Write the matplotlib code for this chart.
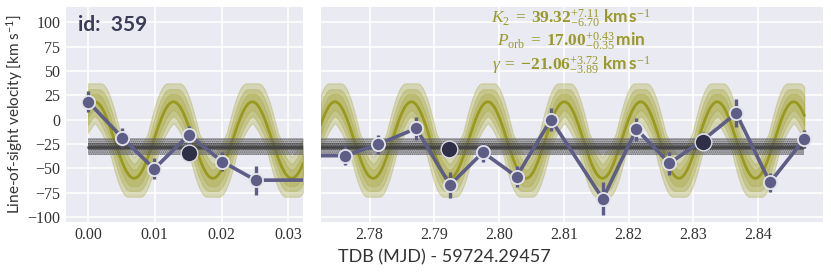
import numpy as np
import matplotlib
matplotlib.use("Agg")
import matplotlib.pyplot as plt

# ---------------- data ----------------
times = [0.0000, 0.0051, 0.0099, 0.0151, 0.0201, 0.0251,
         2.7762, 2.7813, 2.7872, 2.7924, 2.7975, 2.8027, 2.8080,
         2.8160, 2.8212, 2.8263, 2.8315, 2.8366, 2.8418, 2.8471]
rv = [18.5, -18.5, -50.7, -15.8, -43.2, -62.3,
      -37.1, -25.5, -9.1, -67.2, -33.7, -58.6, 0.0,
      -81.5, -9.9, -44.9, -21.0, 6.5, -64.7, -20.2]
rv_err = [10.8, 9.4, 10.8, 9.0, 10.0, 15.0,
          9.4, 10.0, 11.5, 13.0, 10.0, 11.0, 12.0,
          17.0, 12.0, 12.0, 8.0, 14.5, 10.0, 9.4]

dark_times = [0.0151, 2.7923, 2.8315]
dark_rv = [-34.6, -30.6, -22.6]

# orbital model parameters
K2 = 39.32
P_orb_min = 16.996          # minutes (quoted 17.00)
gamma = -21.06
T_max = 0.0010              # time of maximum velocity (days)
# half-widths of the three shaded model levels (inner, middle, outer)
band_dK = [5.0, 8.0, 12.0]
band_dgamma = [3.0, 5.0, 7.0]
band_dt = [0.0003, 0.0006, 0.0009]

# systemic reference band
gray_center = -27.8
gray_inner = (-31.3, -24.4)
gray_outer = (-36.4, -19.3)

left_xticks = [0.00, 0.01, 0.02, 0.03]
right_xticks = [2.78, 2.79, 2.80, 2.81, 2.82, 2.83, 2.84]
yticks = [-100, -75, -50, -25, 0, 25, 50, 75, 100]

# ---------------- style ----------------
plt.rcParams["font.family"] = ["Liberation Serif", "DejaVu Serif"]
plt.rcParams["mathtext.fontset"] = "custom"
plt.rcParams["mathtext.rm"] = "Liberation Serif"
plt.rcParams["mathtext.it"] = "Liberation Serif:italic"
plt.rcParams["mathtext.bf"] = "Liberation Serif:bold"
plt.rcParams["mathtext.sf"] = "Lato:bold"
plt.rcParams["hatch.linewidth"] = 0.8
plt.rcParams["axes.unicode_minus"] = True

PURPLE = "#5d5d85"
DARK = "#2f2f48"
OLIVE = "#a6a63a"
OLIVE_LINE = "#999920"
TXT_OLIVE = "#9a9a2c"

fig = plt.figure(figsize=(8.31, 2.73), dpi=100)
W, H = 831.0, 273.0
axL = fig.add_axes([66 / W, 51.3 / H, 237 / W, 215 / H])
axR = fig.add_axes([321 / W, 51.3 / H, 502 / W, 215 / H])

P_day = P_orb_min / 1440.0


def model(t, K, g, shift):
    return g + K * np.cos(2 * np.pi * (t - T_max - shift) / P_day)


def draw(ax, tgrid):
    med = model(tgrid, K2, gamma, 0.0)
    for dK, dg, dt in reversed(list(zip(band_dK, band_dgamma, band_dt))):
        curves = []
        for kk in (K2 - dK, K2 + dK):
            for gg in (gamma - dg, gamma + dg):
                for ss in np.linspace(-dt, dt, 9):
                    curves.append(model(tgrid, kk, gg, ss))
        curves = np.array(curves)
        ax.fill_between(tgrid, curves.min(0), curves.max(0), color=OLIVE,
                        alpha=0.32, lw=0.8, zorder=2)
    ax.plot(tgrid, med, color=OLIVE_LINE, lw=2.0, zorder=2.5)

    tg = [times[0], times[-1]]
    ax.fill_between(tg, gray_outer[0], gray_outer[1],
                    facecolor=(0.45, 0.45, 0.47, 0.45),
                    edgecolor=(0.3, 0.3, 0.3, 0.75), hatch="........",
                    lw=0, zorder=3)
    ax.fill_between(tg, gray_inner[0], gray_inner[1],
                    facecolor=(0.3, 0.3, 0.32, 0.4),
                    edgecolor=(0.2, 0.2, 0.2, 0.6), hatch="........",
                    lw=0, zorder=3.1)
    ax.plot(tg, [gray_center, gray_center], color="#3c3c3c", lw=1.8,
            alpha=0.85, zorder=3.2)

    ax.errorbar(times, rv, yerr=rv_err, fmt="none", ecolor=PURPLE,
                elinewidth=2.4, capsize=0, zorder=4)
    ax.plot(times, rv, "-", color=PURPLE, lw=2.6, zorder=5)
    ax.plot(times, rv, "o", ms=9.5, mfc=PURPLE, mec="#e2e2ea", mew=1.3,
            zorder=6, ls="none")
    ax.plot(dark_times, dark_rv, "o", ms=12, mfc=DARK, mec="#dadae4",
            mew=1.0, zorder=7, ls="none")


draw(axL, np.linspace(0.0, 0.0322, 800))
draw(axR, np.linspace(2.7725, times[-1], 1500))

for ax in (axL, axR):
    ax.set_facecolor("#EAEAF2")
    for s in ax.spines.values():
        s.set_visible(False)
    ax.grid(True, color="white", lw=1.1)
    ax.set_axisbelow(True)
    ax.set_ylim(-105, 116)
    ax.set_yticks(yticks)
    ax.tick_params(length=0, labelsize=11.5, pad=4, labelcolor="#333333")

axL.set_xlim(-0.0033, 0.0322)
axL.set_xticks(left_xticks)
axL.set_xticklabels([f"{v:.2f}" for v in left_xticks])
axL.set_yticklabels([f"{v}".replace("-", "\u2212") for v in yticks])

axR.set_xlim(2.7725, 2.8500)
axR.set_xticks(right_xticks)
axR.set_xticklabels([f"{v:.2f}" for v in right_xticks])
axR.tick_params(labelleft=False)

axL.text(0.05, 0.916, "id:  359", transform=axL.transAxes, ha="left",
         va="center", fontsize=15, fontweight="bold", family="Lato",
         color="#3b3b58")

ann = [r"$K_2\;=\;\mathbf{39.32}^{+7.11}_{-6.70}\ \mathsf{km\,s}^{-1}$",
       r"$P_{\rm orb}\;=\;\mathbf{17.00}^{+0.43}_{-0.35}\,\mathsf{min}$",
       r"$\gamma\;=\;\mathbf{-21.06}^{+3.72}_{-3.89}\ \mathsf{km\,s}^{-1}$"]
for i, s in enumerate(ann):
    axR.text(0.498, 0.944 - 0.109 * i, s, transform=axR.transAxes,
             ha="center", va="center", fontsize=12.5, color=TXT_OLIVE,
             zorder=10)

fig.text(15 / W, 1 - 114 / H, r"Line-of-sight velocity [km s$\mathregular{^{-1}}$]",
         rotation=90, ha="center", va="center", fontsize=11, family="Lato",
         color="#333333")
fig.text(444 / W, 1 - 257 / H, "TDB (MJD) - 59724.29457", ha="center",
         va="center", fontsize=13, family="Lato", color="#333333")

fig.savefig("out.png", dpi=100)
